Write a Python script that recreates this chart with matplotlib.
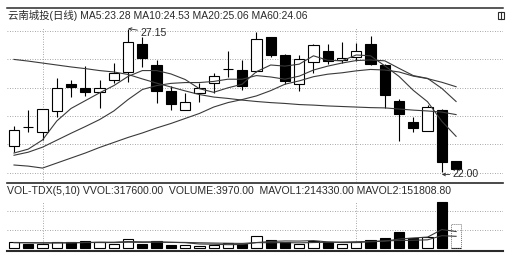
import matplotlib
matplotlib.use("Agg")
import matplotlib.pyplot as plt
from matplotlib.patches import Rectangle
from matplotlib.lines import Line2D

plt.rcParams['font.family'] = ['Liberation Sans', 'Noto Sans CJK SC']

# daily candles
opens  = [22.93, 23.61, 23.45, 24.20, 25.15, 25.03, 24.88, 25.30, 25.60, 26.59, 25.84, 24.90, 24.22, 24.82, 25.20, 25.69,
          25.66, 25.62, 26.86, 26.20, 25.16, 25.96, 26.35, 26.01, 26.14, 26.60, 25.84, 24.55, 23.78, 23.47, 24.22, 22.39]
highs  = [23.65, 24.22, 24.26, 25.36, 25.30, 25.80, 25.30, 25.92, 27.15, 26.86, 26.02, 25.09, 24.83, 25.21, 25.55, 26.34,
          26.01, 27.04, 26.86, 26.23, 26.20, 26.59, 26.59, 26.68, 26.63, 26.87, 25.88, 24.61, 23.96, 24.40, 24.25, 22.39]
lows   = [22.73, 23.45, 23.15, 23.98, 24.70, 24.73, 24.29, 25.18, 25.24, 25.78, 24.49, 24.22, 24.22, 24.52, 24.85, 25.41,
          24.94, 25.59, 26.11, 25.16, 24.92, 25.57, 25.88, 25.92, 25.98, 25.84, 24.30, 23.12, 23.42, 23.47, 22.00, 22.11]
closes = [23.51, 23.60, 24.25, 25.00, 25.06, 24.88, 25.03, 25.54, 26.65, 26.08, 24.91, 24.43, 24.52, 25.01, 25.43, 25.69,
          25.08, 26.79, 26.20, 25.25, 26.04, 26.56, 25.98, 26.10, 26.34, 25.88, 24.76, 24.08, 23.57, 24.32, 22.37, 22.11]

ma5  = [22.68, 22.82, 23.15, 23.83, 24.28, 24.56, 24.84, 25.10, 25.43, 25.64, 25.64, 25.52, 25.32, 24.99, 24.86, 25.02,
        25.15, 25.60, 25.84, 25.80, 25.87, 26.17, 26.01, 25.99, 26.20, 26.17, 25.81, 25.43, 24.93, 24.52, 23.82, 23.28]
ma10 = [22.60, 22.71, 22.89, 23.14, 23.39, 23.63, 23.88, 24.19, 24.60, 24.96, 25.10, 25.18, 25.21, 25.21, 25.25, 25.33,
        25.33, 25.46, 25.41, 25.33, 25.44, 25.66, 25.80, 25.91, 26.00, 26.02, 25.99, 25.72, 25.46, 25.36, 25.00, 24.53]
ma20 = [22.25, 22.21, 22.14, 22.32, 22.50, 22.68, 22.88, 23.06, 23.24, 23.40, 23.58, 23.74, 23.92, 24.10, 24.33, 24.49,
        24.60, 24.73, 24.92, 25.15, 25.27, 25.42, 25.51, 25.56, 25.63, 25.68, 25.66, 25.59, 25.44, 25.35, 25.22, 25.06]
ma60 = [26.04, 25.98, 25.91, 25.84, 25.77, 25.71, 25.64, 25.59, 25.50, 25.34, 25.19, 25.05, 24.91, 24.78, 24.69, 24.64,
        24.58, 24.53, 24.49, 24.46, 24.42, 24.40, 24.37, 24.35, 24.33, 24.31, 24.30, 24.26, 24.22, 24.19, 24.15, 24.06]

volumes = [74000, 56000, 56000, 74000, 78000, 95000, 74000, 56000, 117000, 56000, 95000, 43000, 35000, 30000, 43000, 65000,
           56000, 160000, 100000, 78000, 56000, 87000, 74000, 56000, 82000, 104000, 130438, 207000, 129000, 138000, 593680, 3970]
mavol1 = [70800, 68000, 65200, 66000, 67600, 71800, 75400, 75400, 84000, 79600, 79600, 73400, 69200, 51800, 49200, 43200,
          45800, 70800, 84800, 91800, 90000, 96200, 79000, 70200, 71000, 80600, 89290, 115890, 130490, 141690, 239620, 214330]
mavol2 = [70400, 69000, 67600, 68000, 68800, 71300, 71700, 70300, 75000, 73600, 75700, 74400, 72300, 67900, 64400, 61400,
          59600, 70000, 68300, 70500, 66600, 71000, 74900, 77500, 81400, 85300, 92740, 97440, 100340, 106340, 160110, 151810]
vvol = 317600

price_grid = [27.06, 26.04, 25.01, 24.01, 22.99, 21.96]
vol_grid = [230100, 477100]
month_marks = [3, 25]

title_main = "云南城投(日线) MA5:23.28 MA10:24.53 MA20:25.06 MA60:24.06"
title_vol = "VOL-TDX(5,10) VVOL:317600.00  VOLUME:3970.00  MAVOL1:214330.00 MAVOL2:151808.80"

W, H = 511, 257
fig = plt.figure(figsize=(W / 100, H / 100), dpi=100)
fig.patch.set_facecolor('white')

x = list(range(1, len(opens) + 1))
xlim = (0.509, 35.29)
dark = '#2a2a2a'
gridc = '#8a8a8a'

ax = fig.add_axes([7 / W, 1 - 182 / H, 496 / W, 174 / H])
av = fig.add_axes([7 / W, 1 - 250.5 / H, 496 / W, 67.5 / H])

for a in (ax, av):
    a.set_xlim(*xlim)
    a.set_xticks([])
    a.set_yticks([])
    for s in ('left', 'right'):
        a.spines[s].set_visible(False)

ax.set_ylim(21.64, 27.886)
ax.spines['bottom'].set_visible(False)
ax.spines['top'].set_linewidth(1.1)
ax.spines['top'].set_color(dark)
av.set_ylim(-32500, 845000)
av.spines['top'].set_linewidth(1.2)
av.spines['top'].set_color(dark)
av.spines['bottom'].set_linewidth(1.5)
av.spines['bottom'].set_color(dark)

# dotted grid
for g in price_grid:
    ax.axhline(g, color=gridc, lw=0.6, ls=(0, (1, 2)), zorder=0)
for g in vol_grid:
    av.axhline(g, color=gridc, lw=0.6, ls=(0, (1, 2)), zorder=0)
for m in month_marks:
    ax.axvline(m, ymin=0, ymax=0.89, color=gridc, lw=0.6, ls=(0, (1, 2)), zorder=0)
    av.axvline(m, ymin=0, ymax=0.72, color=gridc, lw=0.6, ls=(0, (1, 2)), zorder=0)

# candles
bw = 0.72
ax.vlines(x, lows, highs, color='black', lw=0.8, zorder=2)
for i, o, c in zip(x, opens, closes):
    down = c < o
    ax.bar(i, abs(c - o), bottom=min(o, c), width=bw, color='black' if down else 'white',
           edgecolor='black', linewidth=0.8, zorder=3)

for ma in (ma5, ma10, ma20, ma60):
    ax.plot(x, ma, color='#3a3a3a', lw=0.8, zorder=4)

# high / low labels
ax.annotate('27.15', xy=(9.0, 27.15), xytext=(9.85, 26.99), fontsize=7.6, va='center', ha='left',
            color=dark, arrowprops=dict(arrowstyle='->', lw=0.6, color=dark, shrinkA=0, shrinkB=0,
                                        mutation_scale=5))
ax.annotate('22.00', xy=(31.0, 21.91), xytext=(31.75, 21.91), fontsize=7.6, va='center', ha='left',
            color=dark, arrowprops=dict(arrowstyle='->', lw=0.6, color=dark, shrinkA=0, shrinkB=0,
                                        mutation_scale=5))

# volume
for i, o, c, v in zip(x, opens, closes, volumes):
    down = c < o
    av.bar(i, v, width=bw, color='black' if down else 'white', edgecolor='black', linewidth=0.8, zorder=3)
av.bar(x[-1], vvol, width=bw, fill=False, edgecolor='#777777', linewidth=0.7, linestyle=(0, (1, 1)), zorder=3)
av.plot(x, mavol1, color='#3a3a3a', lw=0.8, zorder=4)
av.plot(x, mavol2, color='#3a3a3a', lw=0.8, zorder=4)

# titles
fig.text(8 / W, 1 - 15 / H, title_main, fontsize=7.5, va='center', ha='left', color=dark)
fig.text(7 / W, 1 - 190.5 / H, title_vol, fontsize=7.6, va='center', ha='left', color=dark)

# small window icon top right
fig.add_artist(Rectangle((498 / W, 1 - 18.5 / H), 6 / W, 6.5 / H, transform=fig.transFigure,
                         fill=False, edgecolor=dark, lw=0.8))
fig.add_artist(Line2D([500.5 / W, 500.5 / W], [1 - 18.5 / H, 1 - 12 / H], transform=fig.transFigure,
                      color=dark, lw=0.8))

fig.savefig('out.png', dpi=100)
